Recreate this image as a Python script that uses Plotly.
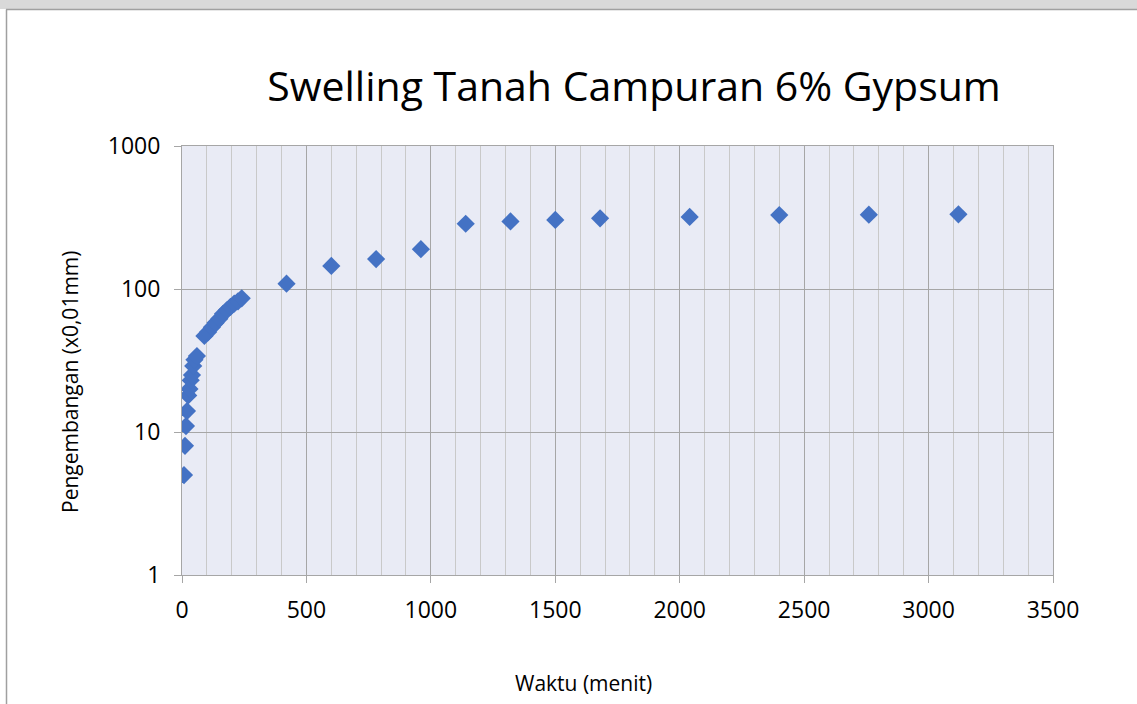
import plotly.graph_objects as go

# Data: time (minutes) and swelling (x0.01 mm)
waktu = [8, 12, 16, 20, 25, 30, 35, 40, 45, 50, 60,
         90, 105, 120, 135, 150, 165, 180, 195, 210, 225, 240,
         420, 600, 780, 960, 1140, 1320, 1500, 1680, 2040, 2400, 2760, 3120]
pengembangan = [5, 8, 11, 14, 18, 20, 23, 25, 29, 32, 34,
                47, 50, 54, 58, 62, 67, 71, 75, 79, 82, 86,
                109, 145, 162, 190, 286, 297, 304, 312, 319, 329, 331, 333]

x_ticks = [0, 500, 1000, 1500, 2000, 2500, 3000, 3500]
y_ticks = [1, 10, 100, 1000]

W, H = 1137, 704
L, R, T, B = 182, 1053, 146, 575

def px(xp):
    return (xp - L) / (R - L)

def py(yp):
    return (B - yp) / (B - T)

fig = go.Figure()
fig.add_trace(go.Scatter(
    x=waktu, y=pengembangan, mode="markers",
    marker=dict(symbol="diamond", size=14, color="#4472C4",
                line=dict(width=0)),
    showlegend=False,
))

font_family = "Open Sans, Noto Sans, sans-serif"

fig.update_layout(
    width=W, height=H,
    margin=dict(l=L, r=W - R, t=T, b=H - B, pad=0),
    paper_bgcolor="white",
    plot_bgcolor="#E9EBF5",
    font=dict(family=font_family, color="#000000"),
    title=dict(text="Swelling Tanah Campuran 6% Gypsum",
               x=634 / W, xanchor="center", xref="container",
               y=1 - 87 / H, yanchor="middle", yref="container",
               font=dict(size=41, family=font_family, color="#000000")),
    xaxis=dict(
        range=[0, 3500], tickvals=x_ticks, ticktext=[str(v) for v in x_ticks],
        showgrid=True, gridcolor="#A6A6A6", gridwidth=1,
        minor=dict(dtick=100, showgrid=True, gridcolor="#C9C9C9", gridwidth=1,
                   ticks=""),
        showline=True, linecolor="#A6A6A6", linewidth=1, mirror=True,
        ticks="outside", ticklen=7, tickcolor="#A6A6A6",
        tickfont=dict(size=23), ticklabelstandoff=7,
        zeroline=False,
    ),
    yaxis=dict(
        type="log", range=[0, 3], tickvals=y_ticks,
        ticktext=[str(v) for v in y_ticks],
        showgrid=True, gridcolor="#A6A6A6", gridwidth=1,
        showline=True, linecolor="#A6A6A6", linewidth=1, mirror=True,
        ticks="outside", ticklen=7, tickcolor="#A6A6A6",
        tickfont=dict(size=23), ticklabelstandoff=9,
        zeroline=False,
    ),
    annotations=[
        dict(text="Waktu (menit)", xref="paper", yref="paper",
             x=px(583), y=py(683), xanchor="center", yanchor="middle",
             showarrow=False, font=dict(size=21)),
        dict(text="Pengembangan (x0,01mm)", xref="paper", yref="paper",
             x=px(70), y=py(382), xanchor="center", yanchor="middle",
             textangle=-90, showarrow=False, font=dict(size=21)),
    ],
    shapes=[
        dict(type="rect", xref="paper", yref="paper",
             x0=px(0), x1=px(W + 5), y0=py(9), y1=py(-5),
             fillcolor="#D9D9D9", line=dict(width=0), layer="below"),
        dict(type="line", xref="paper", yref="paper",
             x0=px(6), x1=px(W + 5), y0=py(9.5), y1=py(9.5),
             line=dict(color="#A0A0A0", width=1.5)),
        dict(type="line", xref="paper", yref="paper",
             x0=px(6.5), x1=px(6.5), y0=py(9.5), y1=py(H + 5),
             line=dict(color="#A0A0A0", width=1.5)),
    ],
)

fig.write_html("out.html", config={"displayModeBar": False},
               post_script="document.body.style.margin='0px';")
